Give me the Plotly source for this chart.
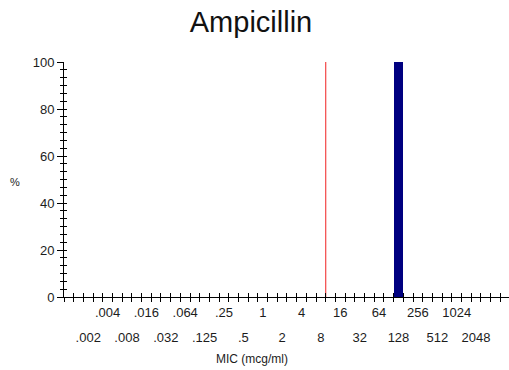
import plotly.graph_objects as go

# MIC dilution series (mcg/ml) and the tick text shown for each step
mic_values = [0.002, 0.004, 0.008, 0.016, 0.032, 0.064, 0.125, 0.25, 0.5, 1,
              2, 4, 8, 16, 32, 64, 128, 256, 512, 1024, 2048]
mic_labels = [".002", ".004", ".008", ".016", ".032", ".064", ".125", ".25", ".5", "1",
              "2", "4", "8", "16", "32", "64", "128", "256", "512", "1024", "2048"]
# percentage of isolates at each MIC
pct_isolates = [0, 0, 0, 0, 0, 0, 0, 0, 0, 0,
                0, 0, 0, 0, 0, 0, 100, 0, 0, 0, 0]
# susceptibility breakpoint (mcg/ml)
breakpoint_mic = 8

FONT = "Liberation Sans, Arial, sans-serif"
INK = "#1c1c1c"

# one x unit per two-fold dilution step
x_pos = list(range(len(mic_values)))
bp_x = mic_values.index(breakpoint_mic) + 0.25   # right edge of the breakpoint bin

top_idx = [i for i in x_pos if i % 2 == 1]
bot_idx = [i for i in x_pos if i % 2 == 0]

fig = go.Figure()
fig.add_trace(go.Bar(x=x_pos, y=pct_isolates, width=0.43,
                     marker=dict(color="#000080", line=dict(width=0)),
                     hoverinfo="skip", showlegend=False))
fig.add_trace(go.Scatter(x=[bp_x, bp_x], y=[0, 100], mode="lines",
                         line=dict(color="#f02020", width=1),
                         hoverinfo="skip", showlegend=False))
# empty traces so the overlay axes are built
for xa, ya in [("x2", "y"), ("x3", "y"), ("x4", "y"), ("x", "y2")]:
    fig.add_trace(go.Scatter(x=[], y=[], xaxis=xa, yaxis=ya, showlegend=False))

x_range = [-1.25, 21.7]
common_x = dict(range=x_range, showgrid=False, zeroline=False, fixedrange=True)

fig.update_layout(
    width=509, height=370,
    margin=dict(l=64, r=0, t=62, b=73),
    paper_bgcolor="white", plot_bgcolor="rgba(0,0,0,0)",
    font=dict(family=FONT, color=INK, size=13),
    title=dict(text="Ampicillin", x=251 / 509, xanchor="center",
               y=1 - 12 / 370, yanchor="top", yref="container",
               font=dict(family=FONT, size=29, color="#111111")),
    bargap=0,
    xaxis=dict(**common_x, showline=True, linecolor="black", linewidth=1,
               tickmode="linear", tick0=0.25, dtick=0.5,
               ticks="outside", ticklen=4, tickcolor="black", tickwidth=1,
               showticklabels=False),
    xaxis2=dict(**common_x, overlaying="x", matches="x", anchor="y", side="bottom",
                showline=False, tickmode="linear", tick0=0.25, dtick=0.5,
                ticks="inside", ticklen=4, tickcolor="black", tickwidth=1,
                showticklabels=False),
    xaxis3=dict(**common_x, overlaying="x", matches="x", anchor="y", side="bottom",
                showline=False, ticks="", tickmode="array",
                tickvals=top_idx, ticktext=[mic_labels[i] for i in top_idx],
                ticklabelstandoff=6, tickfont=dict(size=13, color=INK)),
    xaxis4=dict(**common_x, overlaying="x", matches="x", anchor="y", side="bottom",
                showline=False, ticks="", tickmode="array",
                tickvals=bot_idx, ticktext=[mic_labels[i] for i in bot_idx],
                ticklabelstandoff=31, tickfont=dict(size=13, color=INK)),
    yaxis=dict(range=[0, 100], showgrid=False, zeroline=False, fixedrange=True,
               showline=True, linecolor="black", linewidth=1,
               tickmode="linear", tick0=0, dtick=20,
               ticks="outside", ticklen=6, tickcolor="black",
               minor=dict(tick0=0, dtick=20 / 6, ticks="outside", ticklen=3,
                          tickcolor="black"),
               tickfont=dict(size=13, color=INK)),
    yaxis2=dict(range=[0, 100], overlaying="y", matches="y", anchor="x", side="left",
                showgrid=False, zeroline=False, showline=False, fixedrange=True,
                tickmode="linear", tick0=0, dtick=20 / 6,
                ticks="inside", ticklen=3, tickcolor="black",
                showticklabels=False),
    annotations=[
        dict(text="%", xref="paper", yref="paper", x=(15 - 64) / 445, y=0.49,
             xanchor="center", yanchor="middle", showarrow=False,
             font=dict(size=11, color=INK)),
        dict(text="MIC (mcg/ml)", xref="paper", yref="paper",
             x=(252 - 64) / 445, y=-(359 - 296.7) / 234.5,
             xanchor="center", yanchor="middle", showarrow=False,
             font=dict(size=12, color=INK)),
    ],
)

fig.write_html("out.html")
